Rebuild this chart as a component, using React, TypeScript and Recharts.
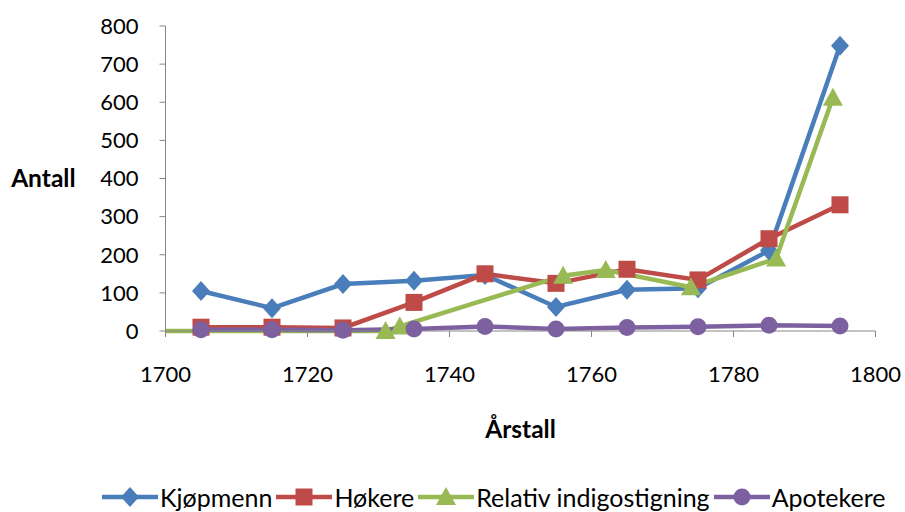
import React from 'react';
import { LineChart, Line, XAxis, YAxis, Label } from 'recharts';

// Values
const YEARS = [1705, 1715, 1725, 1735, 1745, 1755, 1765, 1775, 1785, 1795];
const KJOPMENN = [105, 60, 123, 132, 147, 63, 108, 112, 211, 748];
const HOKERE = [10, 10, 8, 75, 150, 125, 162, 134, 242, 331];
const APOTEKERE = [3, 3, 2, 5, 12, 5, 9, 11, 15, 13];
const INDIGO_YEARS = [1700, 1731, 1733, 1756, 1762, 1774, 1786, 1794];
const INDIGO = [0, 0, 12, 145, 160, 115, 190, 612];
const X_TICKS = [1700, 1720, 1740, 1760, 1780, 1800];
const Y_TICKS = [0, 100, 200, 300, 400, 500, 600, 700, 800];

const COLORS = {
  kjopmenn: '#4A7EBB',
  hokere: '#BE4B48',
  indigo: '#98B954',
  apotekere: '#7D60A0',
};

const FONT = 'Lato, "Open Sans", sans-serif';
const AXIS_COLOR = '#868686';

const toPoints = (xs: number[], ys: number[]) =>
  xs.map((x, i) => ({ year: x, value: ys[i] }));

// Marker shapes
const diamond = (cx: number, cy: number, fill: string, key?: any) => (
  <polygon
    key={key}
    points={`${cx},${cy - 10} ${cx + 9},${cy} ${cx},${cy + 10} ${cx - 9},${cy}`}
    fill={fill}
  />
);
const square = (cx: number, cy: number, fill: string, key?: any) => (
  <rect key={key} x={cx - 8.5} y={cy - 8.5} width={17} height={17} fill={fill} />
);
const triangle = (cx: number, cy: number, fill: string, key?: any) => (
  <polygon
    key={key}
    points={`${cx},${cy - 10} ${cx + 10},${cy + 8} ${cx - 10},${cy + 8}`}
    fill={fill}
  />
);
const circle = (cx: number, cy: number, fill: string, key?: any) => (
  <circle key={key} cx={cx} cy={cy} r={8.5} fill={fill} />
);

const makeDot =
  (shape: typeof diamond, fill: string, skipFirst = false) =>
  (props: any) => {
    const { cx, cy, index } = props;
    if (cx == null || cy == null) return <g key={`d-${index}`} />;
    if (skipFirst && index === 0) return <g key={`d-${index}`} />;
    return shape(cx, cy, fill, `d-${index}`);
  };

const LEGEND = [
  { name: 'Kjøpmenn', color: COLORS.kjopmenn, shape: diamond },
  { name: 'Høkere', color: COLORS.hokere, shape: square },
  { name: 'Relativ indigostigning', color: COLORS.indigo, shape: triangle },
  { name: 'Apotekere', color: COLORS.apotekere, shape: circle },
];

const ChartLegend = () => (
  <div
    style={{
      position: 'absolute',
      left: 102,
      top: 483,
      display: 'flex',
      alignItems: 'center',
      fontFamily: FONT,
      fontSize: 25,
      color: '#000',
      whiteSpace: 'nowrap',
    }}
  >
    {LEGEND.map((item) => (
      <div key={item.name} style={{ display: 'flex', alignItems: 'center', marginRight: 4 }}>
        <svg width={56} height={24}>
          <line x1={0} y1={12} x2={56} y2={12} stroke={item.color} strokeWidth={4.5} />
          {item.shape(28, 12, item.color)}
        </svg>
        <span style={{ marginLeft: 2, lineHeight: '28px' }}>{item.name}</span>
      </div>
    ))}
  </div>
);

const tickStyle = { fill: '#000', fontSize: 22, fontFamily: FONT };
const titleStyle = { fontSize: 24.5, fontWeight: 'bold', fontFamily: FONT, fill: '#000' };

export default function App() {
  return (
    <div style={{ position: 'absolute', left: 0, top: 0, width: 905, height: 512, background: '#fff' }}>
      <LineChart
        width={905}
        height={512}
        margin={{ top: 26, right: 29.5, bottom: 74, left: 105.5 }}
      >
        <XAxis
          dataKey="year"
          type="number"
          domain={[1700, 1800]}
          ticks={X_TICKS}
          height={107}
          tick={tickStyle}
          tickSize={6}
          tickMargin={29}
          stroke={AXIS_COLOR}
        >
          <Label value="Årstall" position="insideBottom" offset={0} style={titleStyle} />
        </XAxis>
        <YAxis
          type="number"
          domain={[0, 800]}
          ticks={Y_TICKS}
          width={60}
          tick={tickStyle}
          tickSize={6}
          tickMargin={21}
          stroke={AXIS_COLOR}
        >
          <Label
            value="Antall"
            position="left"
            offset={30}
            style={{ ...titleStyle, textAnchor: 'end' }}
          />
        </YAxis>
        <Line
          data={toPoints(YEARS, KJOPMENN)}
          dataKey="value"
          name="Kjøpmenn"
          stroke={COLORS.kjopmenn}
          strokeWidth={4.5}
          dot={makeDot(diamond, COLORS.kjopmenn)}
          activeDot={false}
          isAnimationActive={false}
        />
        <Line
          data={toPoints(YEARS, HOKERE)}
          dataKey="value"
          name="Høkere"
          stroke={COLORS.hokere}
          strokeWidth={4.5}
          dot={makeDot(square, COLORS.hokere)}
          activeDot={false}
          isAnimationActive={false}
        />
        <Line
          data={toPoints(INDIGO_YEARS, INDIGO)}
          dataKey="value"
          name="Relativ indigostigning"
          stroke={COLORS.indigo}
          strokeWidth={4.5}
          dot={makeDot(triangle, COLORS.indigo, true)}
          activeDot={false}
          isAnimationActive={false}
        />
        <Line
          data={toPoints(YEARS, APOTEKERE)}
          dataKey="value"
          name="Apotekere"
          stroke={COLORS.apotekere}
          strokeWidth={4.5}
          dot={makeDot(circle, COLORS.apotekere)}
          activeDot={false}
          isAnimationActive={false}
        />
      </LineChart>
      <ChartLegend />
    </div>
  );
}
